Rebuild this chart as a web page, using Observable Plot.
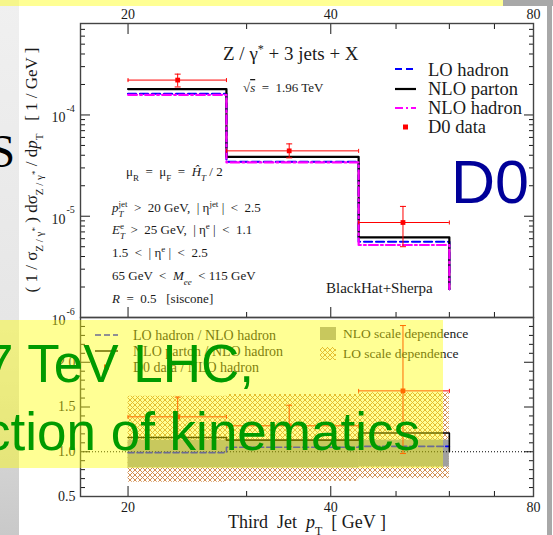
<!DOCTYPE html>
<html>
<head>
<meta charset="utf-8">
<script src="https://cdn.jsdelivr.net/npm/d3@7"></script>
<script src="https://cdn.jsdelivr.net/npm/@observablehq/plot@0.6"></script>
<style>
  html, body { margin: 0; padding: 0; background: #fff; }
  #stage { position: relative; width: 553px; height: 535px; overflow: hidden; background: #fff; }
  #stage > * { position: absolute; }
  svg text { white-space: pre; }
</style>
</head>
<body>
<div id="stage"></div>
<script>
// ---- third-jet pT bins (GeV) ----
const binLo = [20, 28, 44];
const binHi = [28, 44, 60];

// ---- upper panel: normalised distributions [1/GeV] ----
const loHadron  = [1.62e-4, 3.44e-5, 5.6e-6];
const nloParton = [1.80e-4, 3.86e-5, 6.19e-6];
const nloHadron = [1.58e-4, 3.40e-5, 5.2e-6];
const histTail  = 1.9e-6;
const d0X    = [23.7, 34.7, 51.2];
const d0Val  = [2.21e-4, 4.42e-5, 8.67e-6];
const d0Low  = [1.89e-4, 3.77e-5, 5.0e-6];
const d0High = [2.53e-4, 5.18e-5, 1.25e-5];

// ---- lower panel: ratios to NLO hadron ----
const ratioLO        = [0.99, 1.05, 1.06];
const ratioParton    = [1.16, 1.13, 1.21];
const ratioPartonEnd = 1.0;
const ratioData      = [1.39, 1.29, 1.68];
const ratioDataLow   = [1.17, 1.06, 0.98];
const ratioDataHigh  = [1.61, 1.52, 2.41];
const nloBandLow  = [0.82, 0.82, 0.83];
const nloBandHigh = [1.13, 1.13, 1.13];
const loBandLow   = [0.66, 0.67, 0.70];
const loBandHigh  = [1.62, 1.64, 1.66];

// ---- ticks and tick labels ----
const xMajor = [20, 40];
const xMinor = [30, 50, 60, 70, 80];
const xLabels = [20, 40, 80];
const yDecades = [1e-6, 1e-5, 1e-4];
const yExponents = ["-6", "-5", "-4"];
const yMinor = [2, 3, 4, 5, 6, 7, 8, 9].flatMap(m => yDecades.map(d => m * d)).filter(v => v < 8e-4);
const rMajor = [0.5, 1, 1.5, 2, 2.5];
const rLabels = [0.5, 1, 1.5, 2];
const rMinor = d3.range(6, 25).map(k => k / 10).filter(v => !rMajor.includes(v));

const SERIF = "'Liberation Serif', 'Times New Roman', serif";
const SANS = "'Liberation Sans', Arial, sans-serif";
const HATCH = "#d08a4a";
const bins = binLo.map((lo, i) => ({lo, hi: binHi[i], i}));

// histogram outline as a polyline through the bin edges
function steps(values, tail) {
  const pts = [];
  values.forEach((v, i) => pts.push({x: binLo[i], y: v}, {x: binHi[i], y: v}));
  if (tail !== undefined) pts.push({x: binHi[binHi.length - 1], y: tail});
  return pts;
}

// short cap symbols for error bars
const hCap = {draw(ctx, size) { const r = Math.sqrt(size / Math.PI); ctx.moveTo(-r, 0); ctx.lineTo(r, 0); }};
const vCap = {draw(ctx, size) { const r = Math.sqrt(size / Math.PI); ctx.moveTo(0, -r); ctx.lineTo(0, r); }};

function tickAxes(xTicksAnchors, yMaj, yMin) {
  const marks = [];
  for (const a of xTicksAnchors) {
    marks.push(Plot.axisX({anchor: a, ticks: xMajor, tickSize: -10, tickFormat: () => "", label: null}));
    marks.push(Plot.axisX({anchor: a, ticks: xMinor, tickSize: -5, tickFormat: () => "", label: null}));
  }
  for (const a of ["left", "right"]) {
    marks.push(Plot.axisY({anchor: a, ticks: yMaj, tickSize: -10, tickFormat: () => "", label: null}));
    marks.push(Plot.axisY({anchor: a, ticks: yMin, tickSize: -5, tickFormat: () => "", label: null}));
  }
  return marks;
}

function errorBars(val, low, high, color, capR) {
  const idx = [0, 1, 2];
  return [
    Plot.ruleY(idx, {y: i => val[i], x1: i => binLo[i], x2: i => binHi[i], stroke: color, strokeWidth: 1}),
    Plot.ruleX(idx, {x: i => d0X[i], y1: i => low[i], y2: i => high[i], stroke: color, strokeWidth: 1}),
    Plot.dot(idx, {x: i => d0X[i], y: i => low[i], symbol: hCap, r: capR, stroke: color, fill: "none", strokeWidth: 1}),
    Plot.dot(idx, {x: i => d0X[i], y: i => high[i], symbol: hCap, r: capR, stroke: color, fill: "none", strokeWidth: 1}),
    Plot.dot(idx, {x: i => binLo[i], y: i => val[i], symbol: vCap, r: 2, stroke: color, fill: "none", strokeWidth: 1}),
    Plot.dot(idx, {x: i => binHi[i], y: i => val[i], symbol: vCap, r: 2, stroke: color, fill: "none", strokeWidth: 1}),
    Plot.dot(idx, {x: i => d0X[i], y: i => val[i], symbol: "square", r: 2.7, fill: color, stroke: "none"})
  ];
}

const baseStyle = {background: "transparent", fontFamily: SERIF, fontSize: "14px", color: "#1a1a1a", overflow: "visible"};

// ---- upper panel ----
const upper = Plot.plot({
  width: 553, height: 320,
  marginLeft: 80, marginRight: 20, marginTop: 23, marginBottom: 3,
  style: baseStyle,
  x: {type: "log", domain: [17, 80], label: null},
  y: {type: "log", domain: [1e-6, 8e-4], label: null},
  marks: [
    Plot.line(steps(loHadron, histTail), {x: "x", y: "y", stroke: "#0000ff", strokeWidth: 2.2, strokeDasharray: "8,4"}),
    Plot.line(steps(nloParton, histTail), {x: "x", y: "y", stroke: "#000000", strokeWidth: 2.2}),
    Plot.line(steps(nloHadron, histTail), {x: "x", y: "y", stroke: "#ff00ff", strokeWidth: 2.2, strokeDasharray: "9,3,2,3"}),
    ...errorBars(d0Val, d0Low, d0High, "#ff0000", 3),
    ...tickAxes(["top", "bottom"], yDecades, yMinor),
    Plot.axisX({anchor: "top", ticks: xLabels, tickSize: 0, tickPadding: 5, label: null, fontSize: 14}),
    Plot.text(yDecades, {y: d => d, text: () => "10", frameAnchor: "left", textAnchor: "end", dx: -15, dy: 3, fontSize: 14}),
    Plot.text(yDecades, {y: d => d, text: (d, i) => yExponents[i], frameAnchor: "left", textAnchor: "start", dx: -14, dy: -6, fontSize: 10}),
    Plot.frame({stroke: "#444", strokeWidth: 1.4})
  ]
});
upper.style.left = "0px"; upper.style.top = "0px";

// ---- lower panel ----
const lower = Plot.plot({
  width: 553, height: 235,
  marginLeft: 80, marginRight: 20, marginTop: 17, marginBottom: 39,
  style: baseStyle,
  x: {type: "log", domain: [17, 80], label: null},
  y: {domain: [0.5, 2.5], label: null},
  marks: [
    Plot.rect(bins, {x1: "lo", x2: "hi", y1: d => loBandLow[d.i], y2: d => loBandHigh[d.i], fill: "url(#lo-hatch)"}),
    Plot.rect(bins, {x1: "lo", x2: "hi", y1: d => nloBandLow[d.i], y2: d => nloBandHigh[d.i], fill: "#a0a0a0"}),
    Plot.ruleY([1], {stroke: "#000", strokeWidth: 1, strokeDasharray: "1,2"}),
    Plot.line(steps(ratioLO), {x: "x", y: "y", stroke: "#0000ff", strokeWidth: 1.6, strokeDasharray: "6,3"}),
    Plot.line(steps(ratioParton, ratioPartonEnd), {x: "x", y: "y", stroke: "#000", strokeWidth: 1.6}),
    ...errorBars(ratioData, ratioDataLow, ratioDataHigh, "#ff0000", 3),
    ...tickAxes(["bottom"], rMajor, rMinor),
    Plot.axisX({anchor: "bottom", ticks: xLabels, tickSize: 0, tickPadding: 6, label: null, fontSize: 14}),
    Plot.axisY({anchor: "left", ticks: rLabels, tickSize: 0, tickPadding: 5, label: null, fontSize: 14}),
    Plot.frame({stroke: "#444", strokeWidth: 1.4})
  ]
});
lower.style.left = "0px"; lower.style.top = "300px";
lower.insertAdjacentHTML("afterbegin",
  `<defs><pattern id="lo-hatch" patternUnits="userSpaceOnUse" width="5" height="5">
     <path d="M-1,-1 L6,6 M6,-1 L-1,6" stroke="${HATCH}" stroke-width="0.95" fill="none"/>
   </pattern></defs>`);

const stage = document.getElementById("stage");

// slide backdrop pieces
const leftStrip = document.createElement("div");
Object.assign(leftStrip.style, {left: "0px", top: "0px", width: "19px", height: "535px",
  background: "linear-gradient(#f0f0f0, #e6e6e6 60%, #c9c9c9)"});
stage.appendChild(leftStrip);
stage.appendChild(upper);
stage.appendChild(lower);

// titles, annotations and legends
const sub = (s, fs) => `<tspan baseline-shift="sub" font-size="${fs}">${s}</tspan>`;
const sup = (s, fs) => `<tspan baseline-shift="super" font-size="${fs}">${s}</tspan>`;
const it = s => `<tspan font-style="italic">${s}</tspan>`;

const ann = `
<svg xmlns="http://www.w3.org/2000/svg" width="553" height="535" style="position:absolute;left:0;top:0" font-family="${SERIF}" fill="#1a1a1a">
  <defs><pattern id="lo-hatch-key" patternUnits="userSpaceOnUse" width="5" height="5">
     <path d="M-1,-1 L6,6 M6,-1 L-1,6" stroke="${HATCH}" stroke-width="0.95" fill="none"/>
  </pattern></defs>
  <text x="-11" y="167" font-size="47" fill="#000">S</text>
  <text transform="translate(37,170) rotate(-90)" text-anchor="middle" font-size="17">( 1 / σ${sub(`Z / γ${sup("*", 9)}`, 11)} ) dσ${sub(`Z / γ${sup("*", 9)}`, 11)} / d${it("p")}${sub("T", 11)}   [ 1 / GeV ]</text>
  <text x="223" y="60" font-size="19">Z / γ${sup("*", 12)} + 3 jets + X</text>
  <text x="243" y="92" font-size="13">√<tspan font-style="italic" text-decoration="overline">s</tspan>  =  1.96 TeV</text>
  <text x="126" y="176" font-size="13">μ${sub("R", 9)}  =  μ${sub("F", 9)}  =  <tspan font-style="italic">Ĥ</tspan>${sub(it("T"), 9)} / 2</text>
  <text x="112" y="212" font-size="13">${it("p")}${sub(it("T"), 9)}<tspan dx="-5" baseline-shift="super" font-size="9">jet</tspan>  &gt;  20 GeV,  | η<tspan baseline-shift="super" font-size="9">jet</tspan> |  &lt;  2.5</text>
  <text x="112" y="234" font-size="13">${it("E")}${sub(it("T"), 9)}<tspan dx="-5" baseline-shift="super" font-size="9">e</tspan>  &gt;  25 GeV,  | η<tspan baseline-shift="super" font-size="9">e</tspan> |  &lt;  1.1</text>
  <text x="112" y="257" font-size="13">1.5  &lt;  | η<tspan baseline-shift="super" font-size="9">e</tspan> |  &lt;  2.5</text>
  <text x="112" y="280" font-size="13">65 GeV  &lt;  ${it("M")}${sub(it("ee"), 9)}  &lt; 115 GeV</text>
  <text x="112" y="303" font-size="13">${it("R")}  =  0.5   [siscone]</text>
  <text x="326" y="293" font-size="15">BlackHat+Sherpa</text>

  <line x1="395" x2="416" y1="69" y2="69" stroke="#0000ff" stroke-width="2.2" stroke-dasharray="7,4"/>
  <line x1="395" x2="416" y1="89" y2="89" stroke="#000" stroke-width="2.2"/>
  <line x1="395" x2="416" y1="108" y2="108" stroke="#ff00ff" stroke-width="2.2" stroke-dasharray="8,3,2,3"/>
  <rect x="403" y="124.5" width="5" height="5" fill="#ff0000"/>
  <text x="428" y="76" font-size="18.5">LO hadron</text>
  <text x="428" y="95" font-size="18.5">NLO parton</text>
  <text x="428" y="114" font-size="18.5">NLO hadron</text>
  <text x="428" y="133" font-size="18.5">D0 data</text>

  <line x1="95" x2="118" y1="335" y2="335" stroke="#0000ff" stroke-width="1.5" stroke-dasharray="6,3"/>
  <line x1="95" x2="118" y1="351" y2="351" stroke="#000" stroke-width="1.5"/>
  <rect x="104" y="364.5" width="5" height="5" fill="#ff0000"/>
  <text x="133" y="340" font-size="14">LO hadron / NLO hadron</text>
  <text x="133" y="356" font-size="14">NLO parton / NLO hadron</text>
  <text x="133" y="372" font-size="14">D0 data / NLO hadron</text>
  <rect x="320" y="327" width="16" height="13" fill="#a0a0a0"/>
  <rect x="320" y="347" width="16" height="13" fill="url(#lo-hatch-key)"/>
  <text x="343" y="338" font-size="13.5">NLO scale dependence</text>
  <text x="343" y="358" font-size="13.5">LO scale dependence</text>

  <text x="307" y="528" font-size="18" text-anchor="middle">Third  Jet  ${it("p")}${sub("T", 12)}  [ GeV ]</text>
  <text x="451" y="203" font-family="${SANS}" font-size="61" fill="#000099">D0</text>
</svg>`;
stage.insertAdjacentHTML("beforeend", ann);

// highlight boxes and slide text on top
const boxes = [
  {left: 0, top: 320, width: 443, height: 148, background: "rgba(255,255,0,0.42)"},
  {left: 0, top: 0, width: 503, height: 6, background: "rgba(255,255,0,0.42)"},
  {left: 503, top: 0, width: 50, height: 6, background: "#a8a8a8"},
  {left: 547, top: 6, width: 5, height: 529, background: "#a8a8a8"}
];
for (const b of boxes) {
  const d = document.createElement("div");
  Object.assign(d.style, {left: b.left + "px", top: b.top + "px", width: b.width + "px", height: b.height + "px", background: b.background});
  stage.appendChild(d);
}
stage.insertAdjacentHTML("beforeend", `
<svg xmlns="http://www.w3.org/2000/svg" width="553" height="535" style="position:absolute;left:0;top:0" font-family="${SANS}" font-size="53" fill="#009a00">
  <text x="-16" y="382">7 TeV LHC,</text>
  <text x="-16" y="450">ction of kinematics</text>
</svg>`);
</script>
</body>
</html>
